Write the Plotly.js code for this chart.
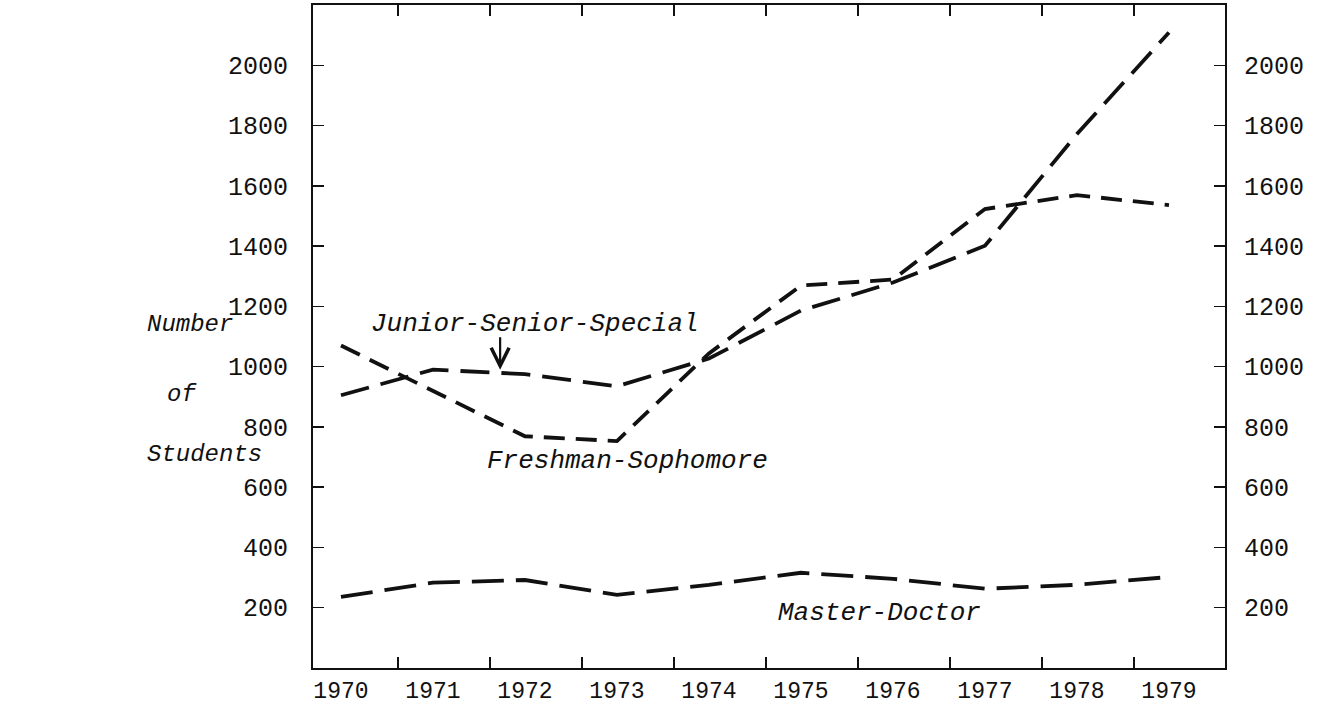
<!DOCTYPE html>
<html>
<head>
<meta charset="utf-8">
<script src="https://cdn.plot.ly/plotly-3.0.1.min.js"></script>
<style>
  html, body { margin: 0; padding: 0; background: #fff; }
  #chart { width: 1321px; height: 706px; }
</style>
</head>
<body>
<div id="chart"></div>
<script>
// ---- data ----
const years = [1970, 1971, 1972, 1973, 1974, 1975, 1976, 1977, 1978, 1979];
const freshmanSophomore   = [1070, 918, 769, 753, 1044, 1269, 1289, 1523, 1569, 1536];
const juniorSeniorSpecial = [905, 990, 975, 935, 1027, 1186, 1279, 1401, 1772, 2109];
const masterDoctor        = [236, 283, 292, 243, 276, 316, 296, 263, 276, 302];
const yTickValues = [200, 400, 600, 800, 1000, 1200, 1400, 1600, 1800, 2000];
const xTickLabels = ['1970', '1971', '1972', '1973', '1974', '1975', '1976', '1977', '1978', '1979'];
const seriesNames = ['Freshman-Sophomore', 'Junior-Senior-Special', 'Master-Doctor'];
const yTitleLines = ['Number', 'of', 'Students'];

// ---- styling ----
const FONT = '"Liberation Mono", "Courier New", monospace';
const INK = '#111111';
const tickMarkOffset = 0.62; // tick marks sit between the year labels
const tickMarks = years.slice(0, -1).map(y => y + tickMarkOffset);

const lineBase = { color: INK, width: 3.8 };

const traces = [
  {
    x: years, y: freshmanSophomore, name: seriesNames[0], type: 'scatter', mode: 'lines',
    line: Object.assign({}, lineBase, { dash: '21px,11px' }), xaxis: 'x', yaxis: 'y'
  },
  {
    x: years, y: juniorSeniorSpecial, name: seriesNames[1], type: 'scatter', mode: 'lines',
    line: Object.assign({}, lineBase, { dash: '29px,12px' }), xaxis: 'x', yaxis: 'y'
  },
  {
    x: years, y: masterDoctor, name: seriesNames[2], type: 'scatter', mode: 'lines',
    line: Object.assign({}, lineBase, { dash: '32px,12px' }), xaxis: 'x', yaxis: 'y2'
  }
];

const tickFont = { family: FONT, size: 25, color: INK };
const xTickFont = { family: FONT, size: 23, color: INK };
const labelFont = { family: FONT, size: 26, color: INK, style: 'italic' };
const titleFont = { family: FONT, size: 24, color: INK, style: 'italic' };

const layout = {
  width: 1321, height: 706,
  margin: { l: 313, r: 96, t: 5, b: 38 },
  paper_bgcolor: '#ffffff', plot_bgcolor: '#ffffff',
  showlegend: false,
  xaxis: {
    range: [1969.696, 1979.609],
    tickmode: 'array', tickvals: years, ticktext: xTickLabels,
    ticks: '', showgrid: false, zeroline: false,
    showline: true, linecolor: INK, linewidth: 2, mirror: 'ticks',
    tickfont: xTickFont, ticklabelstandoff: 0,
    minor: { tickmode: 'array', tickvals: tickMarks, ticks: 'inside', ticklen: 11, tickwidth: 1.5, tickcolor: INK, showgrid: false }
  },
  yaxis: {
    range: [0, 2200],
    tickmode: 'array', tickvals: yTickValues,
    ticks: 'inside', ticklen: 11, tickwidth: 1.5, tickcolor: INK,
    showgrid: false, zeroline: false,
    showline: true, linecolor: INK, linewidth: 2, mirror: 'ticks',
    tickfont: tickFont, ticklabelstandoff: 18
  },
  yaxis2: {
    range: [0, 2200], overlaying: 'y', side: 'right', anchor: 'x',
    tickmode: 'array', tickvals: yTickValues,
    ticks: '', showgrid: false, zeroline: false, showline: false,
    tickfont: tickFont, ticklabelstandoff: 18
  },
  annotations: [
    { text: seriesNames[1], x: 1972.11, y: 1143, xref: 'x', yref: 'y', showarrow: false, font: labelFont },
    { text: '', x: 1971.73, y: 990, xref: 'x', yref: 'y', showarrow: true, ax: 0, ay: -34,
      arrowhead: 5, arrowsize: 1.6, arrowwidth: 2.2, arrowcolor: INK },
    { text: seriesNames[0], x: 1973.11, y: 686, xref: 'x', yref: 'y', showarrow: false, font: labelFont },
    { text: seriesNames[2], x: 1975.85, y: 182, xref: 'x', yref: 'y', showarrow: false, font: labelFont },
    { text: yTitleLines[0], x: -0.184, y: 0.518, xref: 'paper', yref: 'paper', xanchor: 'left', yanchor: 'middle', showarrow: false, font: titleFont },
    { text: yTitleLines[1], x: -0.162, y: 0.413, xref: 'paper', yref: 'paper', xanchor: 'left', yanchor: 'middle', showarrow: false, font: titleFont },
    { text: yTitleLines[2], x: -0.184, y: 0.322, xref: 'paper', yref: 'paper', xanchor: 'left', yanchor: 'middle', showarrow: false, font: titleFont }
  ]
};

Plotly.newPlot('chart', traces, layout, { displayModeBar: false, staticPlot: true });
</script>
</body>
</html>
